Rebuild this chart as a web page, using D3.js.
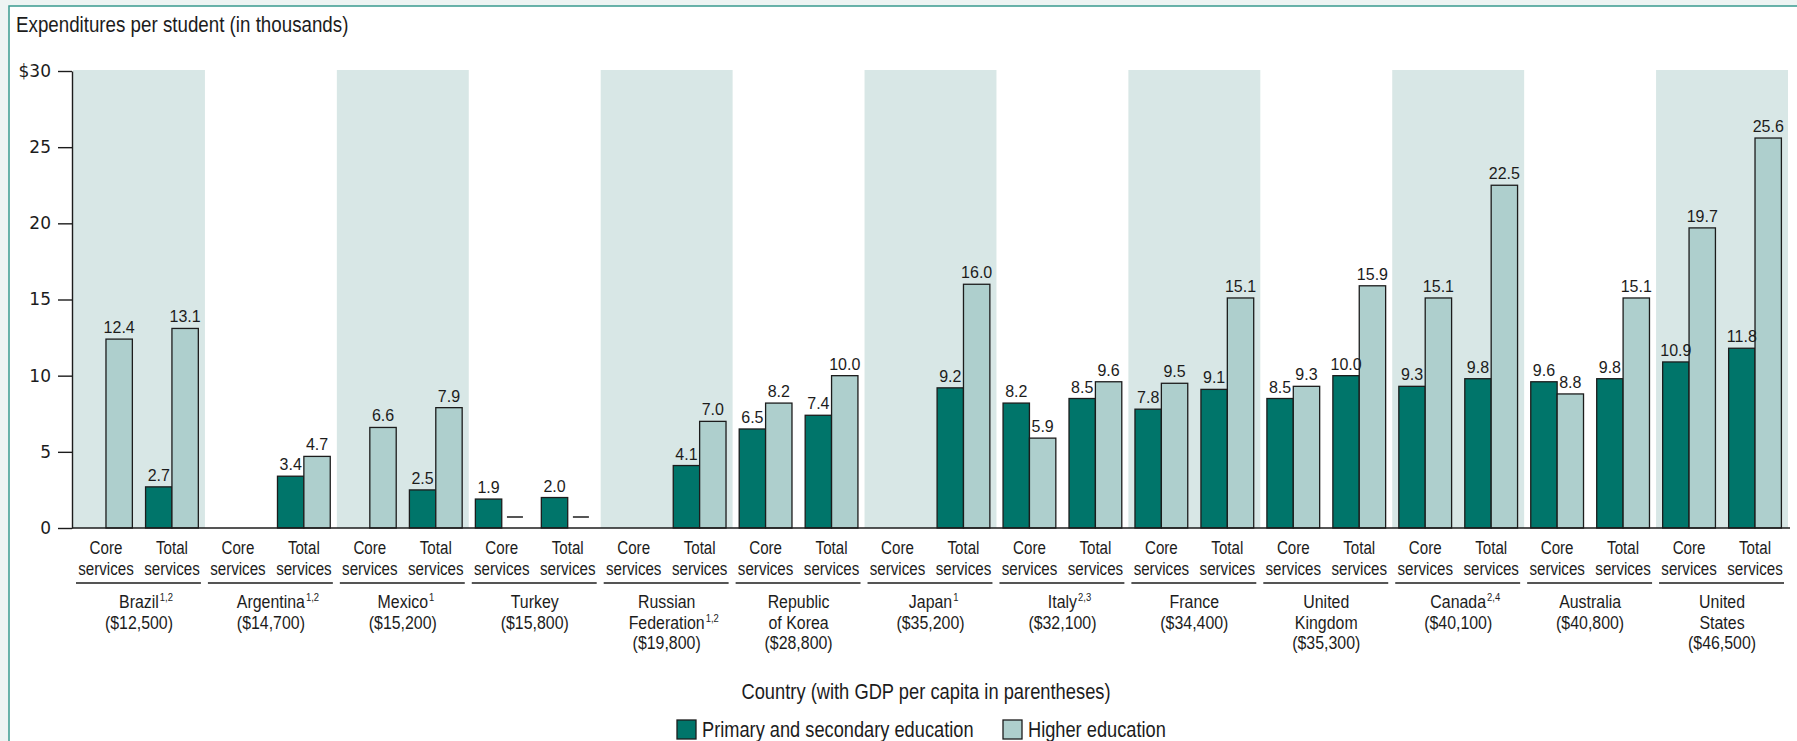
<!DOCTYPE html>
<html><head><meta charset="utf-8">
<script src="https://cdn.jsdelivr.net/npm/d3@7"></script>
<style>
html,body{margin:0;padding:0;background:#edf4f3;overflow:hidden;}
svg{display:block;}
</style></head>
<body>
<svg id="chart" width="1797" height="741"></svg>
<script>
// ---------- data ----------
const countries = ["Brazil","Argentina","Mexico","Turkey","Russian Federation","Republic of Korea","Japan","Italy","France","United Kingdom","Canada","Australia","United States"];
const countryLabelLines = [["Brazil"],["Argentina"],["Mexico"],["Turkey"],["Russian","Federation"],["Republic","of Korea"],["Japan"],["Italy"],["France"],["United","Kingdom"],["Canada"],["Australia"],["United","States"]];
const footnotes = ["1,2","1,2","1","","1,2","","1","2,3","","","2,4","",""];
const gdpPerCapita = ["$12,500","$14,700","$15,200","$15,800","$19,800","$28,800","$35,200","$32,100","$34,400","$35,300","$40,100","$40,800","$46,500"];
const serviceTypes = ["Core","Total"];
const serviceLabels = [["Core","services"],["Total","services"]];
const educationLevels = ["Primary and secondary education","Higher education"];
// "—" = not available (drawn as a dash)
const corePrimary  = [null,null,null,1.9,null,6.5,null,8.2,7.8,8.5,9.3,9.6,10.9];
const coreHigher   = [12.4,null,6.6,"—",null,8.2,null,5.9,9.5,9.3,15.1,8.8,19.7];
const totalPrimary = [2.7,3.4,2.5,2.0,4.1,7.4,9.2,8.5,9.1,10.0,9.8,9.8,11.8];
const totalHigher  = [13.1,4.7,7.9,"—",7.0,10.0,16.0,9.6,15.1,15.9,22.5,15.1,25.6];
const yTicks = [0,5,10,15,20,25,30];
const shadedCountries = ["Brazil","Mexico","Russian Federation","Japan","France","Canada","United States"];
const yTitle = "Expenditures per student (in thousands)";
const xTitle = "Country (with GDP per capita in parentheses)";

// ---------- styles ----------
const sans = "'Liberation Sans',Arial,sans-serif";
const numFont = "'Liberation Sans',Arial,sans-serif";
const tickFont = "'DejaVu Sans',sans-serif";
const SX = 0.86; // horizontal condensing of label text
const darkC = "#00756a", lightC = "#aecfcd", bandC = "#d8e7e6", ink = "#1c1c1c";

const series = {Core:{"Primary and secondary education":corePrimary,"Higher education":coreHigher},
                Total:{"Primary and secondary education":totalPrimary,"Higher education":totalHigher}};
const records = [];
countries.forEach((c,i)=>serviceTypes.forEach(s=>educationLevels.forEach(l=>{
  records.push({country:c, service:s, level:l, value:series[s][l][i]});
})));

const svg = d3.select("#chart");
function ntext(g, x, y, str, size, anchor){
  return g.append("text").attr("transform",`translate(${x},${y}) scale(${SX},1)`)
    .attr("font-family",sans).attr("font-size",size).attr("fill",ink)
    .attr("text-anchor",anchor||"start").text(str);
}
// frame
svg.append("rect").attr("x",9).attr("y",6).attr("width",1820).attr("height",800)
  .attr("fill","#fff").attr("stroke","#3a9b90").attr("stroke-width",1.5);

const x0 = d3.scaleBand().domain(countries).range([73,1788]);
const x1 = d3.scaleBand().domain(serviceTypes).range([0,x0.bandwidth()]);
const x2 = d3.scaleBand().domain(educationLevels).range([0,x1.bandwidth()]).paddingOuter(0.25);
const y = d3.scaleLinear().domain([0,30]).range([528,71]);
const color = d3.scaleOrdinal().domain(educationLevels).range([darkC,lightC]);

// shaded bands
svg.append("g").selectAll("rect").data(shadedCountries).join("rect")
  .attr("x",d=>x0(d)).attr("width",x0.bandwidth())
  .attr("y",y(30)-1).attr("height",y(0)-y(30)+1).attr("fill",bandC);

// title
ntext(svg, 16, 32, yTitle, 21.8);

// bars
const cell = d=> x0(d.country)+x1(d.service)+x2(d.level);
const numeric = records.filter(d=>typeof d.value==="number");
svg.append("g").selectAll("rect").data(numeric).join("rect")
  .attr("x",cell).attr("width",x2.bandwidth())
  .attr("y",d=>y(d.value)).attr("height",d=>y(0)-y(d.value))
  .attr("fill",d=>color(d.level)).attr("stroke",ink).attr("stroke-width",1.3);
// value labels
svg.append("g").selectAll("text").data(numeric).join("text")
  .attr("x",d=>cell(d)+x2.bandwidth()/2).attr("y",d=>y(d.value)-6)
  .attr("text-anchor","middle").attr("font-family",numFont).attr("font-size",16).attr("fill",ink)
  .text(d=>d3.format(".1f")(d.value));
// not-available dashes
svg.append("g").selectAll("line").data(records.filter(d=>d.value==="—")).join("line")
  .attr("x1",d=>cell(d)+x2.bandwidth()/2-8).attr("x2",d=>cell(d)+x2.bandwidth()/2+8)
  .attr("y1",y(0)-11).attr("y2",y(0)-11).attr("stroke",ink).attr("stroke-width",1.5);

// y axis
const yAxis = svg.append("g").attr("transform","translate(72,0)")
  .call(d3.axisLeft(y).tickValues(yTicks).tickSize(14).tickSizeOuter(0).tickPadding(7)
    .tickFormat(d=>d===30?"$30":d));
yAxis.selectAll("line,path").attr("stroke",ink).attr("stroke-width",1.4);
yAxis.selectAll("text").attr("font-family",tickFont).attr("font-size",17).attr("fill",ink);

// x axis baseline
svg.append("line").attr("x1",72).attr("x2",1790).attr("y1",y(0)).attr("y2",y(0))
  .attr("stroke",ink).attr("stroke-width",1.4);

// service labels
const svcG = svg.append("g");
countries.forEach(c=>serviceTypes.forEach((s,si)=>{
  const cx = x0(c)+x1(s)+x1.bandwidth()/2;
  serviceLabels[si].forEach((t,li)=>ntext(svcG, cx, 554+li*21, t, 17.6, "middle"));
}));
// underlines
svg.append("g").selectAll("line").data(countries).join("line")
  .attr("x1",d=>x0(d)+3).attr("x2",d=>x0(d)+x0.bandwidth()-4)
  .attr("y1",583).attr("y2",583).attr("stroke",ink).attr("stroke-width",1.4);
// country labels
const cG = svg.append("g");
countries.forEach((c,i)=>{
  const cx = x0(c)+x0.bandwidth()/2;
  const lines = countryLabelLines[i];
  lines.forEach((t,li)=>{
    const tx = ntext(cG, cx, 608+li*20.5, t, 18.5, "middle");
    if(li===lines.length-1 && footnotes[i]){
      const w = tx.node().getComputedTextLength()*SX;
      ntext(cG, cx+w/2+1, 608+li*20.5-7, footnotes[i], 11, "start");
    }
  });
  ntext(cG, cx, 608+lines.length*20.5, "("+gdpPerCapita[i]+")", 18.5, "middle");
});

// x title
ntext(svg, 926, 699, xTitle, 21.3, "middle");

// legend
const legX = [677,1003];
const lg = svg.append("g").selectAll("g").data(educationLevels).join("g")
  .attr("transform",(d,i)=>`translate(${legX[i]},720)`);
lg.append("rect").attr("width",19).attr("height",19).attr("fill",d=>color(d)).attr("stroke",ink).attr("stroke-width",1.3);
lg.each(function(d){ ntext(d3.select(this), 25, 17, d, 21.2, "start"); });
</script>
</body></html>
